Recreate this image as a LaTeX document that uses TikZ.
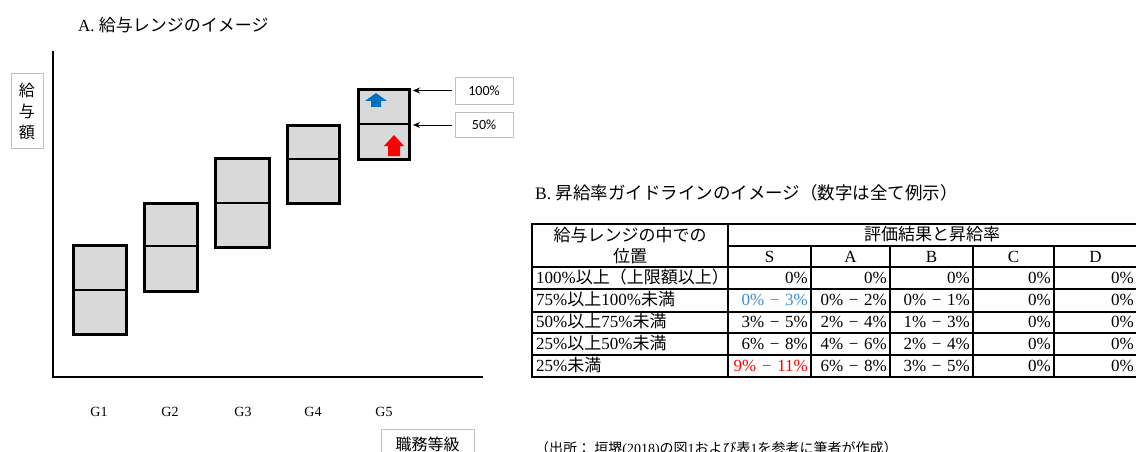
\documentclass[tikz,border=0pt]{standalone}
\usepackage{fontspec}
\setmainfont{Liberation Serif}
\newfontfamily\cjk{Noto Sans CJK JP}
\newfontfamily\calib{Carlito}
\usetikzlibrary{arrows.meta}
\definecolor{boxgray}{HTML}{D9D9D9}
\definecolor{lblgray}{HTML}{C0C0C0}
\definecolor{arrblue}{HTML}{0070C0}
\definecolor{txtblue}{HTML}{3A8FD8}
\definecolor{txtred}{HTML}{FF0000}
\tikzset{
  gbox/.style={draw=black, line width=3pt, fill=boxgray},
  gmid/.style={draw=black, line width=2pt},
  axisline/.style={line width=2.8pt},
  lbl/.style={draw=lblgray, line width=0.8pt, fill=white, inner sep=0pt},
  ptr/.style={line width=0.9pt, -{Stealth[length=7pt,width=6pt]}},
  glab/.style={font=\fontsize{14}{16}\selectfont, inner sep=0pt},
  tline/.style={line width=1.6pt},
  tc/.style={inner sep=0pt, text height=13pt, text depth=3pt, font=\fontsize{17}{20}\selectfont},
  tr/.style={tc, anchor=east},
  tl/.style={tc, anchor=west},
  tm/.style={tc, anchor=center},
}
\newcommand{\rng}[2]{#1\%\,\,−\,\,#2\%}
\begin{document}
\begin{tikzpicture}[x=1pt,y=-1pt]
\useasboundingbox (0,0) rectangle (1136,452);
\clip (0,0) rectangle (1136,452);
\fill[white] (0,0) rectangle (1136,452);

% ---------- Part A ----------
\node[anchor=west, inner sep=0pt, font=\fontsize{17}{20}\selectfont] (titleA) at (78,25) {A. {\cjk 給与レンジのイメージ}};

% axis
\coordinate (ytop) at (53,51);
\coordinate (orig) at (53,377);
\coordinate (xend) at (483,377);
\draw[axisline] (ytop) -- (orig) -- (xend);

% y label
\node[lbl, minimum width=32pt, minimum height=75pt] (ylab) at (27,110.5) {};
\node[inner sep=0pt, align=center, font=\cjk\fontsize{16}{21}\selectfont] (ylabt) at (27,111) {給\\与\\額};

% grade boxes
\draw[gbox] (73,245) rectangle (126,334);
\draw[gmid] (73,290) -- (126,290);
\draw[gbox] (144,203) rectangle (197,291);
\draw[gmid] (144,246) -- (197,246);
\draw[gbox] (215,158) rectangle (269,247);
\draw[gmid] (215,203) -- (269,203);
\draw[gbox] (287,125) rectangle (339,203);
\draw[gmid] (287,159) -- (339,159);
\draw[gbox] (358,90) rectangle (409,159);
\draw[gmid] (358,124) -- (409,124);

% block arrows
\fill[arrblue] (365,101) -- (376,93) -- (387,101) -- (381,101) -- (381,107) -- (371,107) -- (371,101) -- cycle;
\fill[red] (384,146) -- (394,135) -- (404,146) -- (400,146) -- (400,156) -- (388,156) -- (388,146) -- cycle;

% pointer labels
\node[lbl, minimum width=58pt, minimum height=27pt, font=\calib\fontsize{14}{16}\selectfont] (l100) at (484,90.5) {100\%};
\node[lbl, minimum width=58pt, minimum height=25pt, font=\calib\fontsize{14}{16}\selectfont] (l50) at (484,125) {50\%};
\coordinate (t100) at (413,90.5);
\coordinate (t50) at (413,125);
\draw[ptr] ([xshift=-3pt]l100.west) -- (t100);
\draw[ptr] ([xshift=-3pt]l50.west) -- (t50);

% grade labels
\node[glab] (g1) at (99,412) {G1};
\node[glab] (g2) at (170,412) {G2};
\node[glab] (g3) at (243,412) {G3};
\node[glab] (g4) at (313,412) {G4};
\node[glab] (g5) at (384,412) {G5};

\node[lbl, minimum width=93pt, minimum height=30pt, anchor=north, font=\cjk\fontsize{16}{18}\selectfont] (xlab) at (427.5,429) {職務等級};

% ---------- Part B ----------
\node[anchor=west, inner sep=0pt, font=\fontsize{17.5}{20}\selectfont] (titleB) at (535,193) {B. {\cjk 昇給率ガイドラインのイメージ（数字は全て例示）}};

% table lines
\draw[tline] (532,224) rectangle (1137,377);
\draw[tline] (728,224) -- (728,377);
\foreach \x in {811,890,973,1054} \draw[tline] (\x,246) -- (\x,377);
\draw[tline] (728,246) -- (1137,246);
\foreach \y in {267,289,312,333,355} \draw[tline] (532,\y) -- (1137,\y);

% header
\node[tm] (h1a) at (630,236) {\cjk 給与レンジの中での};
\node[tm] (h1b) at (630,257) {\cjk 位置};
\node[tm] (h2) at (932,235.5) {\cjk 評価結果と昇給率};
\node[tm] (hS) at (769.5,257) {S};
\node[tm] (hA) at (850.5,257) {A};
\node[tm] (hB) at (931.5,257) {B};
\node[tm] (hC) at (1013.5,257) {C};
\node[tm] (hD) at (1095.5,257) {D};

% first column
\node[tl] (p1) at (536,278) {100\%{\cjk 以上（上限額以上）}};
\node[tl] (p2) at (536,300.5) {75\%{\cjk 以上}100\%{\cjk 未満}};
\node[tl] (p3) at (536,322.5) {50\%{\cjk 以上}75\%{\cjk 未満}};
\node[tl] (p4) at (536,344) {25\%{\cjk 以上}50\%{\cjk 未満}};
\node[tl] (p5) at (536,366) {25\%{\cjk 未満}};

% data
\foreach \x/\c in {808/s,887/a,970/b,1051/c,1134/d} \node[tr] (r1\c) at (\x,278) {0\%};
\node[tr, text=txtblue] (r2s) at (808,300.5) {\rng{0}{3}};
\node[tr] (r2a) at (887,300.5) {\rng{0}{2}};
\node[tr] (r2b) at (970,300.5) {\rng{0}{1}};
\node[tr] (r2c) at (1051,300.5) {0\%};
\node[tr] (r2d) at (1134,300.5) {0\%};
\node[tr] (r3s) at (808,322.5) {\rng{3}{5}};
\node[tr] (r3a) at (887,322.5) {\rng{2}{4}};
\node[tr] (r3b) at (970,322.5) {\rng{1}{3}};
\node[tr] (r3c) at (1051,322.5) {0\%};
\node[tr] (r3d) at (1134,322.5) {0\%};
\node[tr] (r4s) at (808,344) {\rng{6}{8}};
\node[tr] (r4a) at (887,344) {\rng{4}{6}};
\node[tr] (r4b) at (970,344) {\rng{2}{4}};
\node[tr] (r4c) at (1051,344) {0\%};
\node[tr] (r4d) at (1134,344) {0\%};
\node[tr, text=txtred] (r5s) at (808,366) {\rng{9}{11}};
\node[tr] (r5a) at (887,366) {\rng{6}{8}};
\node[tr] (r5b) at (970,366) {\rng{3}{5}};
\node[tr] (r5c) at (1051,366) {0\%};
\node[tr] (r5d) at (1134,366) {0\%};

% source
\node[anchor=west, inner sep=0pt, font=\fontsize{14}{16}\selectfont] (src) at (535,449) {{\cjk （出所：\ 垣堺}(2018){\cjk の図}1{\cjk および表}1{\cjk を参考に筆者が作成）}};
\end{tikzpicture}
\end{document}
